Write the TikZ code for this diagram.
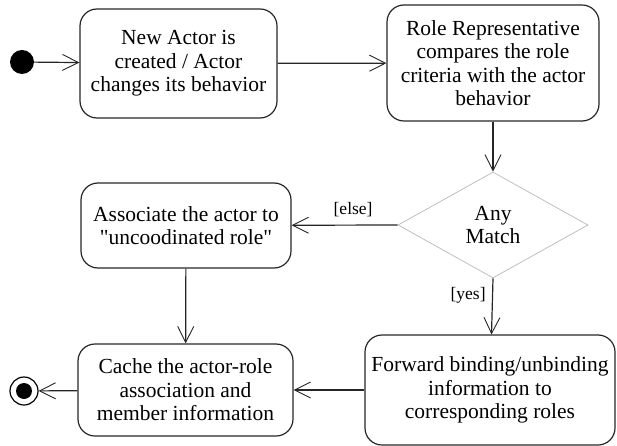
\documentclass[tikz,border=0pt]{standalone}
\usepackage{fontspec}
\setmainfont{Liberation Serif}
\usetikzlibrary{arrows.meta,shapes.geometric}
\begin{document}
\begin{tikzpicture}[x=1pt,y=-1pt,
  act/.style={draw=black!85,line width=1.2pt,rounded corners=17pt,align=center,
    font=\fontsize{21.5}{23.5}\selectfont,inner sep=0pt},
  flow/.style={draw=black!85,line width=1.2pt,-{Straight Barb[length=16pt,width=16pt,line width=0.9pt]}},
  guard/.style={font=\fontsize{17.5}{19}\selectfont}]
\useasboundingbox (0,0) rectangle (617,446);
\node[circle,fill=black,minimum size=24pt,inner sep=0pt] (start) at (22,62) {};
\node[act,minimum width=197pt,minimum height=109pt] (b1) at (178.5,63.5) {New Actor is\\created / Actor\\changes its behavior};
\node[act,minimum width=212pt,minimum height=116pt] (b2) at (493,63) {Role Representative\\compares the role\\criteria with the actor\\behavior};
\node[diamond,draw=black!25,line width=0.8pt,minimum width=190pt,minimum height=106pt,inner sep=0pt,align=center,
  font=\fontsize{21.5}{23.5}\selectfont] (d) at (493,225) {Any\\Match};
\node[act,minimum width=210pt,minimum height=85pt] (b3) at (186,225.5) {Associate the actor to\\\textquotedbl uncoodinated role\textquotedbl};
\node[act,minimum width=215pt,minimum height=92pt] (b4) at (185.5,390) {Cache the actor-role\\association and\\member information};
\node[act,minimum width=250pt,minimum height=110pt] (b5) at (490,390) {Forward binding/unbinding\\information to\\corresponding roles};
\node[circle,draw=black,line width=1.2pt,minimum size=28pt,inner sep=0pt] (end) at (24,391) {};
\node[circle,fill=black,minimum size=16pt,inner sep=0pt] (endin) at (24,391) {};
\draw[flow] (start) -- (b1);
\draw[flow] (b1) -- (b2);
\draw[flow] (b2) -- (d.north);
\draw[flow] (d.west) -- node[guard,above,pos=0.42,yshift=4pt] (le) {[else]} (b3);
\draw[flow] (d.south) -- node[guard,left,pos=0.3,xshift=-3pt] (ly) {[yes]} (b5);
\draw[flow] (b3) -- (b4);
\draw[flow] (b5) -- (b4);
\draw[flow] (b4) -- (end);
\end{tikzpicture}
\end{document}
